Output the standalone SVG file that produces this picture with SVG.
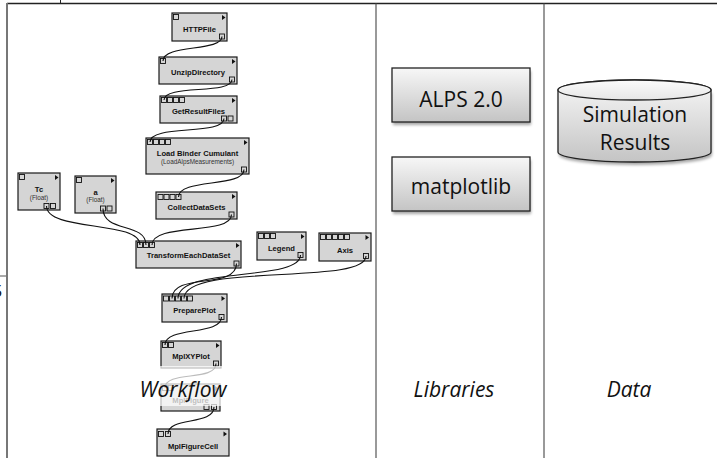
<svg xmlns="http://www.w3.org/2000/svg" width="717" height="458" viewBox="0 0 717 458">
<style>
.body{fill:#d5d5d5;stroke:#1a1a1a;stroke-width:1.2}
.port{fill:#d5d5d5;stroke:#111;stroke-width:0.9}
.tri{fill:#111}
.lbl{font-family:"Liberation Sans",Arial,sans-serif;font-weight:bold;font-size:7.6px;fill:#111;text-anchor:middle}
.sub{font-family:"Liberation Sans",Arial,sans-serif;font-size:6.4px;fill:#333;text-anchor:middle}
.wire{fill:none;stroke:#111;stroke-width:1.1}
.lib{fill:url(#g);stroke:#222;stroke-width:1.3}
.big{font-family:"Open Sans","Liberation Sans",sans-serif;font-size:21px;fill:#111;text-anchor:middle}
.cap{font-family:"Open Sans","Liberation Sans",sans-serif;font-style:italic;font-size:21px;fill:#111;text-anchor:middle}
.shadow{fill:#000;opacity:0.35;filter:url(#blur)}
</style>
<defs>
<linearGradient id="g" x1="0" y1="0" x2="0" y2="1">
<stop offset="0" stop-color="#f7f7f7"/>
<stop offset="1" stop-color="#c4c4c4"/>
</linearGradient>
<linearGradient id="gt" x1="0" y1="0" x2="0" y2="1">
<stop offset="0" stop-color="#fbfbfb"/>
<stop offset="1" stop-color="#e6e6e6"/>
</linearGradient>
<filter id="blur" x="-10%" y="-10%" width="120%" height="130%"><feGaussianBlur stdDeviation="1.5"/></filter>
</defs>
<rect width="717" height="458" fill="#fff"/>

<!-- frame -->
<g id="frame">
<line x1="7" y1="3.5" x2="717" y2="3.5" stroke="#222" stroke-width="1.5"/>
<line x1="7" y1="3" x2="7" y2="458" stroke="#777" stroke-width="2"/>
<line x1="376" y1="3.5" x2="376" y2="458" stroke="#555" stroke-width="1.2"/>
<line x1="544" y1="3.5" x2="544" y2="458" stroke="#555" stroke-width="1.2"/>
<line x1="60.5" y1="0" x2="60.5" y2="3.5" stroke="#222" stroke-width="1"/>
<line x1="0" y1="276" x2="6" y2="276" stroke="#555" stroke-width="1"/>
<text x="-7" y="297" font-family="Liberation Sans, sans-serif" font-size="16" fill="#111">5</text>
</g>

<!-- workflow nodes -->
<g id="n-httpfile">
<rect class="body" x="172" y="13" width="55" height="28"/>
<rect class="port" x="173.5" y="14.5" width="5" height="5"/>
<polygon class="tri" points="222,15 225.5,17.5 222,20"/>
<text class="lbl" x="199.5" y="31.7">HTTPFile</text>
<rect class="port" x="219.5" y="34" width="5" height="5"/>
</g>
<g id="n-unzip">
<rect class="body" x="159" y="57" width="78" height="27"/>
<rect class="port" x="160.5" y="58.5" width="5" height="5"/>
<polygon class="tri" points="232,59 235.5,61.5 232,64"/>
<text class="lbl" x="198" y="75.4">UnzipDirectory</text>
<rect class="port" x="229.5" y="77" width="5" height="5"/>
</g>
<g id="n-getresultfiles">
<rect class="body" x="160" y="96" width="77" height="27"/>
<rect class="port" x="161.5" y="97.5" width="5" height="5"/>
<rect class="port" x="167.5" y="97.5" width="5" height="5"/>
<rect class="port" x="173.5" y="97.5" width="5" height="5"/>
<rect class="port" x="179.5" y="97.5" width="5" height="5"/>
<polygon class="tri" points="232,98 235.5,100.5 232,103"/>
<text class="lbl" x="198.5" y="113.7">GetResultFiles</text>
<rect class="port" x="221.5" y="116" width="5" height="5"/>
<rect class="port" x="228" y="116" width="5" height="5"/>
</g>
<g id="n-loadbinder">
<rect class="body" x="146" y="138" width="103" height="36"/>
<rect class="port" x="147.5" y="139.5" width="5" height="5"/>
<rect class="port" x="153.5" y="139.5" width="5" height="5"/>
<rect class="port" x="159.5" y="139.5" width="5" height="5"/>
<rect class="port" x="165.5" y="139.5" width="5" height="5"/>
<polygon class="tri" points="244,140 247.5,142.5 244,145"/>
<text class="lbl" x="197.5" y="156">Load Binder Cumulant</text>
<text class="sub" x="197.5" y="164.3">(LoadAlpsMeasurements)</text>
<rect class="port" x="241.5" y="167" width="5" height="5"/>
</g>
<g id="n-tc">
<rect class="body" x="18" y="173" width="42" height="37"/>
<rect class="port" x="19.5" y="174.5" width="5" height="5"/>
<polygon class="tri" points="55,175 58.5,177.5 55,180"/>
<text class="lbl" x="39" y="192">Tc</text>
<text class="sub" x="39" y="199.5">(Float)</text>
<rect class="port" x="44" y="203.5" width="5" height="5"/>
<rect class="port" x="50.5" y="203.5" width="5" height="5"/>
</g>
<g id="n-a">
<rect class="body" x="75" y="176" width="41" height="37"/>
<rect class="port" x="76.5" y="177.5" width="5" height="5"/>
<polygon class="tri" points="111,178 114.5,180.5 111,183"/>
<text class="lbl" x="95.5" y="194.5">a</text>
<text class="sub" x="95.5" y="202">(Float)</text>
<rect class="port" x="100.5" y="206" width="5" height="5"/>
<rect class="port" x="107" y="206" width="5" height="5"/>
</g>
<g id="n-collect">
<rect class="body" x="156" y="192" width="81" height="27"/>
<rect class="port" x="158" y="194.5" width="5" height="5"/>
<rect class="port" x="164" y="194.5" width="5" height="5"/>
<rect class="port" x="170" y="194.5" width="5" height="5"/>
<rect class="port" x="176" y="194.5" width="5" height="5"/>
<polygon class="tri" points="232,194 235.5,196.5 232,199"/>
<text class="lbl" x="196.5" y="210">CollectDataSets</text>
<rect class="port" x="229" y="212" width="5" height="5"/>
</g>
<g id="n-transform">
<rect class="body" x="136" y="241" width="105" height="27"/>
<rect class="port" x="137.5" y="242.5" width="5" height="5"/>
<rect class="port" x="143.5" y="242.5" width="5" height="5"/>
<rect class="port" x="149.5" y="242.5" width="5" height="5"/>
<polygon class="tri" points="236,243 239.5,245.5 236,248"/>
<text class="lbl" x="188.5" y="258.4">TransformEachDataSet</text>
<rect class="port" x="234" y="261" width="5" height="5"/>
</g>
<g id="n-legend">
<rect class="body" x="257" y="232" width="49" height="28"/>
<rect class="port" x="258.5" y="233.5" width="5" height="5"/>
<rect class="port" x="264.5" y="233.5" width="5" height="5"/>
<rect class="port" x="270.5" y="233.5" width="5" height="5"/>
<polygon class="tri" points="301,234 304.5,236.5 301,239"/>
<text class="lbl" x="281.5" y="251">Legend</text>
<rect class="port" x="298" y="252.5" width="5" height="5"/>
</g>
<g id="n-axis">
<rect class="body" x="319" y="233" width="52" height="28"/>
<rect class="port" x="320.5" y="234.5" width="5" height="5"/>
<rect class="port" x="326.5" y="234.5" width="5" height="5"/>
<rect class="port" x="332.5" y="234.5" width="5" height="5"/>
<rect class="port" x="338.5" y="234.5" width="5" height="5"/>
<rect class="port" x="344.5" y="234.5" width="5" height="5"/>
<polygon class="tri" points="365.5,235 369,237.5 365.5,240"/>
<text class="lbl" x="345" y="252.7">Axis</text>
<rect class="port" x="363.5" y="253.5" width="5" height="5"/>
</g>
<g id="n-prepareplot">
<rect class="body" x="162" y="294" width="65" height="28"/>
<rect class="port" x="163.5" y="296" width="5" height="5"/>
<rect class="port" x="169.5" y="296" width="5" height="5"/>
<rect class="port" x="175.5" y="296" width="5" height="5"/>
<rect class="port" x="181.5" y="296" width="5" height="5"/>
<rect class="port" x="187.5" y="296" width="5" height="5"/>
<polygon class="tri" points="221.5,296 225,298.5 221.5,301"/>
<text class="lbl" x="194.5" y="312.7">PreparePlot</text>
<rect class="port" x="219" y="314.5" width="5" height="5"/>
</g>
<g id="n-mplxyplot">
<rect class="body" x="161" y="341" width="60" height="27"/>
<rect class="port" x="162.5" y="342.5" width="5" height="5"/>
<rect class="port" x="168.5" y="342.5" width="5" height="5"/>
<polygon class="tri" points="216,343 219.5,345.5 216,348"/>
<text class="lbl" x="191" y="359.4">MplXYPlot</text>
<rect class="port" x="213.5" y="361" width="5" height="5"/>
</g>
<g id="n-mplfigure">
<rect class="body" x="161" y="384" width="59" height="27"/>
<rect class="port" x="162.5" y="385.5" width="5" height="5"/>
<rect class="port" x="168.5" y="385.5" width="5" height="5"/>
<polygon class="tri" points="215,386 218.5,388.5 215,391"/>
<text class="lbl" x="190.5" y="402.7">MplFigure</text>
<rect class="port" x="204" y="404.5" width="5" height="5"/>
<rect class="port" x="211.5" y="404.5" width="5" height="5"/>
</g>
<g id="n-mplfigurecell">
<rect class="body" x="157" y="429" width="72" height="27"/>
<rect class="port" x="158.5" y="431.5" width="5" height="5"/>
<rect class="port" x="165.5" y="431.5" width="5" height="5"/>
<polygon class="tri" points="223.5,431.5 227,434 223.5,436.5"/>
<text class="lbl" x="193" y="449.4">MplFigureCell</text>
</g>

<!-- connectors -->
<g id="connectors">
<path class="wire" d="M222,36.5 C222,52 163,44 163,61"/>
<path class="wire" d="M232,79.5 C232,95 164,84 164,100"/>
<path class="wire" d="M224,118.5 C224,136 150,124 150,142"/>
<path class="wire" d="M244,169.5 C244,188 178.5,178 178.5,197"/>
<path class="wire" d="M46.5,206 C46.5,232 140,220 140,245"/>
<path class="wire" d="M103,208.5 C103,233 146,222 146,245"/>
<path class="wire" d="M231.5,214.5 C231.5,236 152,222 152,245"/>
<path class="wire" d="M236.5,263.5 C236.5,290 172,272 172,298.5"/>
<path class="wire" d="M300.5,255 C300.5,282 178,266 178,298.5"/>
<path class="wire" d="M366,256 C366,286 184,262 184,298.5"/>
<path class="wire" d="M221.5,317 C221.5,336 165,326 165,345"/>
<path class="wire" d="M216,363.5 C216,382 165,370 165,388"/>
<path class="wire" d="M214,407 C214,426 168,416 168,434"/>
</g>

<!-- faded label backdrop -->
<rect x="125" y="366" width="120" height="40" fill="#fff" opacity="0.72"/>

<!-- libraries -->
<g id="n-alps">
<rect class="shadow" x="393" y="71" width="138" height="54"/>
<rect class="lib" x="392" y="68" width="138" height="54"/>
<text class="big" x="461" y="107">ALPS 2.0</text>
</g>
<g id="n-matplotlib">
<rect class="shadow" x="393" y="160" width="138" height="54"/>
<rect class="lib" x="392" y="157" width="138" height="54"/>
<text class="big" x="461" y="194">matplotlib</text>
</g>

<!-- data -->
<g id="n-simresults">
<path class="shadow" d="M559,93 L559,155 A76.5,10 0 0 0 712,155 L712,93 Z"/>
<path class="lib" d="M558,90 L558,152 A76.5,10 0 0 0 711,152 L711,90 A76.5,10 0 0 0 558,90 Z"/>
<ellipse cx="634.5" cy="90" rx="76.5" ry="10" fill="url(#gt)" stroke="#222" stroke-width="1.3"/>
<text class="big" x="635" y="122" font-size="20">Simulation</text>
<text class="big" x="635" y="150" font-size="20">Results</text>
</g>

<!-- captions -->
<text class="cap" x="183" y="397">Workflow</text>
<text class="cap" x="454" y="397">Libraries</text>
<text class="cap" x="629" y="397">Data</text>
</svg>
